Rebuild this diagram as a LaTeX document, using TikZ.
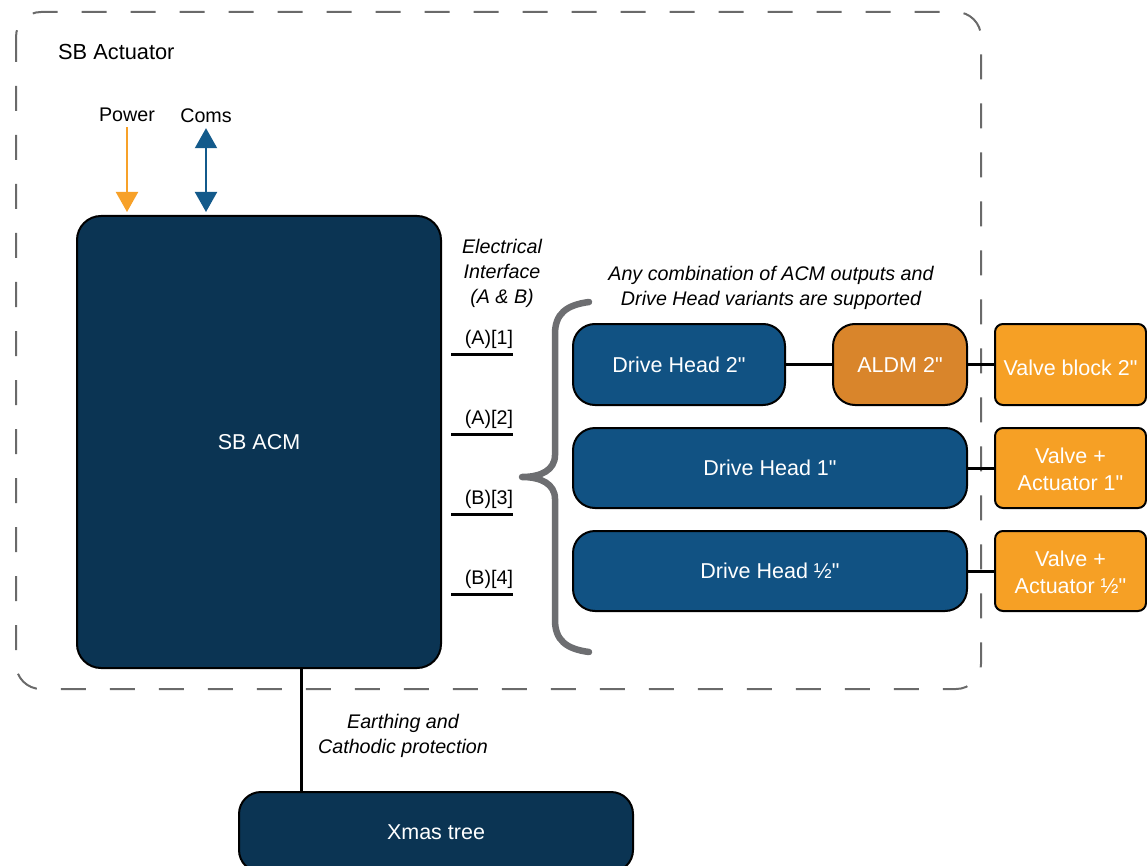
\documentclass[tikz,border=0pt]{standalone}
\usepackage{fontspec}
\setmainfont{Liberation Sans}[Ligatures=TeXOff]
\usetikzlibrary{arrows.meta}
\definecolor{navy}{HTML}{0B3453}
\definecolor{headblue}{HTML}{115283}
\definecolor{aldmorange}{HTML}{D9852B}
\definecolor{valveorange}{HTML}{F6A025}
\definecolor{powerorange}{HTML}{F7A129}
\definecolor{comsblue}{HTML}{135A8B}
\definecolor{bordergray}{HTML}{6A6A6A}
\definecolor{bracegray}{HTML}{6D6E71}
% two-line label set slightly low inside its box
\newcommand\lowtext[2]{\raisebox{-3.5pt}[\height][\depth]{\begin{tabular}{@{}c@{}}#1\\[1pt]#2\end{tabular}}}
\begin{document}
\begin{tikzpicture}[x=1pt,y=-1pt,
  lbl/.style={font=\fontsize{19.7}{24.5}\selectfont, text=black, inner sep=0pt, align=center},
  itl/.style={lbl, font=\fontsize{19.7}{24.8}\selectfont\itshape},
  box/.style={draw=black, line width=2pt, text=white, inner sep=0pt, align=center,
    font=\fontsize{21.5}{26}\selectfont},
  acmbox/.style={box, fill=navy, rounded corners=24pt},
  headbox/.style={box, fill=headblue, rounded corners=22pt},
  aldmbox/.style={box, fill=aldmorange, rounded corners=22pt},
  valvebox/.style={box, fill=valveorange, rounded corners=8pt},
  conn/.style={draw=black, line width=3pt},
  portline/.style={draw=black, line width=3pt},
  enclosure/.style={draw=bordergray, line width=2pt, rounded corners=25pt,
    dash pattern=on 25pt off 24pt},
  bracket/.style={draw=bracegray, line width=6.5pt, line cap=round, line join=round},
]
\useasboundingbox (0,0) rectangle (1147,866);
\clip (0,0) rectangle (1147,866);

% actuator enclosure
\draw[enclosure] (16,12) rectangle (981,689);
\node[lbl, anchor=west, font=\fontsize{21.8}{26}\selectfont] (title) at (58,52) {SB Actuator};

% main control module
\node[acmbox, minimum width=364pt, minimum height=452pt] (acm) at (259,442) {SB ACM};

% supply and communication inputs
\node[lbl] (pw) at (127,115) {Power};
\node[lbl] (coms) at (206,116) {Coms};
\draw[draw=powerorange, line width=2pt,
  -{Triangle[width=22pt,length=20pt,fill=powerorange]}]
  ([yshift=-5pt]pw.south) -- ([yshift=3pt]acm.north -| pw.south);
\draw[draw=comsblue, line width=2pt,
  {Triangle[width=22pt,length=20pt,fill=comsblue]}-{Triangle[width=22pt,length=20pt,fill=comsblue]}]
  ([yshift=-5pt]coms.south) -- ([yshift=3pt]acm.north -| coms.south);

% electrical interface ports
\node[itl] (elec) at (502,273.5) {Electrical\\Interface\\(A \& B)};
\node[lbl] (p1) at (489,339) {(A)[1]};
\node[lbl] (p2) at (489,419) {(A)[2]};
\node[lbl] (p3) at (489,499) {(B)[3]};
\node[lbl] (p4) at (489,579) {(B)[4]};
\coordinate (p1a) at (451,354); \coordinate (p1b) at (513,354);
\coordinate (p2a) at (451,434); \coordinate (p2b) at (513,434);
\coordinate (p3a) at (451,514); \coordinate (p3b) at (513,514);
\coordinate (p4a) at (451,594); \coordinate (p4b) at (513,594);
\draw[portline] (p1a) -- (p1b);
\draw[portline] (p2a) -- (p2b);
\draw[portline] (p3a) -- (p3b);
\draw[portline] (p4a) -- (p4b);

% grouping brace
\draw[bracket] (589,302) .. controls (566,305) and (555,314) .. (555,334)
  -- (555,455) .. controls (555,470) and (541,477) .. (522,477)
  .. controls (541,477) and (555,484) .. (555,499)
  -- (555,620) .. controls (555,640) and (566,649) .. (589,652);
\node[itl] (note) at (771,288) {Any combination of ACM outputs and\\Drive Head variants are supported};

% drive heads and valves
\node[headbox, minimum width=212pt, minimum height=81pt] (dh2) at (679,364.5) {Drive Head 2"};
\node[aldmbox, minimum width=134pt, minimum height=81pt] (aldm) at (900,364.5) {ALDM 2"};
\node[valvebox, minimum width=151pt, minimum height=81pt] (vb2) at (1070.5,364.5) {\raisebox{-3pt}[\height][\depth]{Valve block 2"}};
\node[headbox, minimum width=394pt, minimum height=80pt] (dh1) at (770,468) {Drive Head 1"};
\node[valvebox, minimum width=151pt, minimum height=80pt] (va1) at (1070.5,468) {\lowtext{Valve +}{Actuator 1"}};
\node[headbox, minimum width=394pt, minimum height=80pt] (dhh) at (770,571) {Drive Head ½"};
\node[valvebox, minimum width=151pt, minimum height=80pt] (vah) at (1070.5,571) {\lowtext{Valve +}{Actuator ½"}};

\draw[conn] (dh2.east) -- (aldm.west);
\draw[conn] (aldm.east) -- (vb2.west);
\draw[conn] (dh1.east) -- (va1.west);
\draw[conn] (dhh.east) -- (vah.west);

% earthing to the tree
\node[acmbox, minimum width=394pt, minimum height=80pt, rounded corners=22pt] (xmas) at (436,832) {Xmas tree};
\coordinate (earth) at (301,0);
\draw[conn] (acm.south -| earth) -- (xmas.north -| earth);
\node[itl] (earthlbl) at (403,735.5) {Earthing and\\Cathodic protection};
\end{tikzpicture}
\end{document}
